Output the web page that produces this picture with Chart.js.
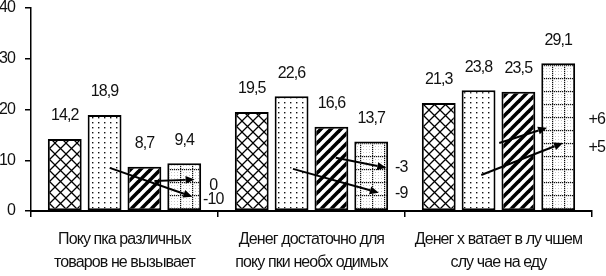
<!doctype html>
<html lang="ru">
<head>
  <meta charset="utf-8">
  <title>Оценка материального положения</title>
  <style>
    * { margin: 0; padding: 0; }
    body { background: white; }
    .chartBox { width: 606px; height: 276px; }
  </style>
</head>
<body>
<div class="chartBox">
  <canvas id="myChart" width="606" height="276"></canvas>
</div>

<script src="https://cdn.jsdelivr.net/npm/chart.js"></script>
<script>
  // data
  const categories = [
    ['Поку пка различных', 'товаров не вызывает'],
    ['Денег достаточно для', 'поку пки необх одимых'],
    ['Денег х ватает в лу чшем', 'слу чае на еду']
  ];
  const series1 = [14.2, 19.5, 21.3];
  const series2 = [18.9, 22.6, 23.8];
  const series3 = [8.7, 16.6, 23.5];
  const series4 = [9.4, 13.7, 29.1];
  const yTicks = [0, 10, 20, 30, 40];

  // trend arrows: [category, offset in category widths, value]
  const arrowFrom = [[0, -0.079, 8.5], [0, 0.16, 5.9], [1, -0.099, 8.3], [1, 0.13, 10.5], [2, -0.092, 7.1], [2, 0.004, 13.4]];
  const arrowTo   = [[0, 0.363, 2.8], [0, 0.375, 6.2], [1, 0.36, 3.6], [1, 0.40, 8.5], [2, 0.345, 13.4], [2, 0.26, 16.4]];
  const changeLabels = ['0', '-10', '-3', '-9', '+6', '+5'];
  const changeAt = [[0, 0.475, 5.1], [0, 0.475, 2.2], [1, 0.48, 8.5], [1, 0.48, 3.5], [2, 0.526, 18.1], [2, 0.526, 12.4]];

  // the original uses a narrow face; tighten the spacing instead
  const FONT = '"Liberation Sans Narrow", "Liberation Sans", Arial, sans-serif';
  const TIGHT = '-0.9px';
  const canvas = document.getElementById('myChart');
  const ctx = canvas.getContext('2d');

  // hatch patterns
  function makePattern(w, h, draw) {
    const c = document.createElement('canvas');
    c.width = w; c.height = h;
    const g = c.getContext('2d');
    g.fillStyle = '#fff';
    g.fillRect(0, 0, w, h);
    draw(g, w, h);
    return ctx.createPattern(c, 'repeat');
  }

  const lattice = makePattern(11, 11, (g, w, h) => {
    g.strokeStyle = '#000';
    g.lineWidth = 1.3;
    for (let k = -1; k <= 1; k++) {
      g.beginPath();
      g.moveTo(k * w - 1, -1); g.lineTo(k * w + w + 1, h + 1);
      g.moveTo(k * w + w + 1, -1); g.lineTo(k * w - 1, h + 1);
      g.stroke();
    }
  });

  const dots = makePattern(6, 5, (g) => {
    g.fillStyle = '#111';
    g.fillRect(2, 2, 1.4, 1.4);
  });

  const stripes = makePattern(10, 10, (g, w, h) => {
    g.strokeStyle = '#000';
    g.lineWidth = 3.6;
    for (let k = -1; k <= 1; k++) {
      g.beginPath();
      g.moveTo(k * w - 1, h + 1); g.lineTo(k * w + w + 1, -1);
      g.stroke();
    }
  });

  const dottedGrid = makePattern(12, 13, (g, w, h) => {
    g.fillStyle = '#c8c8c8';
    for (let x = 3; x < w; x += 3)
      for (let y = 3; y < h; y += 3) g.fillRect(x, y, 1, 1);
    g.fillStyle = '#111';
    for (let y = 0; y < h; y += 2) g.fillRect(0, y, 1.2, 1.2);
    for (let x = 0; x < w; x += 2) g.fillRect(x, 0, 1.2, 1.2);
  });

  const tightText = {
    id: 'tightText',
    beforeDraw(chart) { chart.ctx.letterSpacing = TIGHT; }
  };

  // value labels above bars
  const valueLabels = {
    id: 'valueLabels',
    afterDatasetsDraw(chart) {
      const c = chart.ctx;
      c.save();
      c.letterSpacing = TIGHT;
      c.font = '16px ' + FONT;
      c.fillStyle = '#111';
      c.textAlign = 'center';
      c.textBaseline = 'middle';
      chart.data.datasets.forEach((ds, i) => {
        chart.getDatasetMeta(i).data.forEach((bar, j) => {
          c.fillText(ds.data[j].toFixed(1).replace('.', ','), bar.x, bar.y - 23);
        });
      });
      c.restore();
    }
  };

  // trend arrows and change labels
  const trendArrows = {
    id: 'trendArrows',
    afterDatasetsDraw(chart) {
      const c = chart.ctx;
      const xs = chart.scales.x, ys = chart.scales.y;
      const cw = xs.width / categories.length;
      const px = (p) => [xs.getPixelForValue(p[0]) + p[1] * cw, ys.getPixelForValue(p[2])];
      c.save();
      c.strokeStyle = '#000';
      c.fillStyle = '#000';
      c.lineWidth = 2;
      arrowFrom.forEach((from, i) => {
        const [x1, y1] = px(from);
        const [x2, y2] = px(arrowTo[i]);
        const a = Math.atan2(y2 - y1, x2 - x1);
        const len = 9, half = 4;
        const bx = x2 - len * Math.cos(a), by = y2 - len * Math.sin(a);
        c.beginPath();
        c.moveTo(x1, y1);
        c.lineTo(bx, by);
        c.stroke();
        c.beginPath();
        c.moveTo(x2, y2);
        c.lineTo(bx + half * Math.sin(a), by - half * Math.cos(a));
        c.lineTo(bx - half * Math.sin(a), by + half * Math.cos(a));
        c.closePath();
        c.fill();
      });
      c.letterSpacing = TIGHT;
      c.font = '16px ' + FONT;
      c.fillStyle = '#111';
      c.textAlign = 'center';
      c.textBaseline = 'middle';
      changeLabels.forEach((t, i) => {
        const [x, y] = px(changeAt[i]);
        c.fillText(t, x, y);
      });
      c.restore();
    }
  };

  const data = {
    labels: categories,
    datasets: [
      { data: series1, backgroundColor: lattice },
      { data: series2, backgroundColor: dots },
      { data: series3, backgroundColor: stripes },
      { data: series4, backgroundColor: dottedGrid }
    ].map(d => Object.assign(d, {
      borderColor: '#000',
      borderWidth: 2,
      borderSkipped: false,
      categoryPercentage: 0.852,
      barPercentage: 0.85
    }))
  };

  const config = {
    type: 'bar',
    data,
    options: {
      responsive: false,
      animation: false,
      devicePixelRatio: 1,
      layout: { padding: { top: 0, right: 12, left: 0, bottom: 0 } },
      scales: {
        x: {
          grid: { drawOnChartArea: false, drawTicks: true, tickLength: 6, color: '#000', lineWidth: 1.5 },
          border: { display: true, color: '#000', width: 2 },
          ticks: {
            color: '#111',
            padding: 11,
            maxRotation: 0,
            autoSkip: false,
            font: { family: FONT, size: 16, lineHeight: '23px' }
          },
          afterFit(scale) { scale.height = 65; }
        },
        y: {
          min: 0,
          max: 40,
          afterBuildTicks(scale) { scale.ticks = yTicks.map(v => ({ value: v })); },
          grid: { drawOnChartArea: false, drawTicks: true, tickLength: 6, color: '#000', lineWidth: 1.5 },
          border: { display: true, color: '#000', width: 1.5 },
          ticks: {
            color: '#111',
            padding: 10,
            font: { family: FONT, size: 16, lineHeight: 1 }
          },
          afterFit(scale) {
            scale.width = 31;
            scale.paddingTop = 8;
          }
        }
      },
      plugins: {
        legend: { display: false },
        tooltip: { enabled: false }
      }
    },
    plugins: [tightText, valueLabels, trendArrows]
  };

  new Chart(canvas, config);
</script>
</body>
</html>
